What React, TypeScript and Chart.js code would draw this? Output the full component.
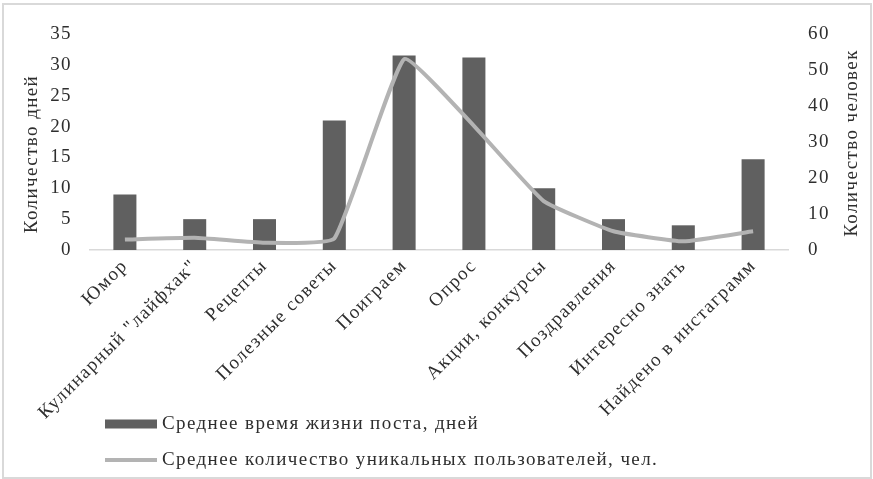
import { useEffect, useRef } from 'react';
import { Chart, registerables } from 'chart.js';

Chart.register(...registerables);

// Post categories along the x axis
const categories = [
  'Юмор',
  'Кулинарный "лайфхак"',
  'Рецепты',
  'Полезные советы',
  'Поиграем',
  'Опрос',
  'Акции, конкурсы',
  'Поздравления',
  'Интересно знать',
  'Найдено в инстаграмм',
];

// Average post lifetime, days (left axis)
const lifetimeDays = [9, 5, 5, 21, 31.5, 31.2, 10, 5, 4, 14.7];

// Average number of unique users (right axis)
const uniqueUsers = [2.9, 3.4, 2.0, 3.2, 53, 34.5, 13.6, 5.2, 2.4, 5.2];

const daysAxisMax = 35;
const daysAxisStep = 5;
const usersAxisMax = 60;
const usersAxisStep = 10;

const daysAxisTitle = 'Количество дней';
const usersAxisTitle = 'Количество человек';
const barSeriesLabel = 'Среднее время жизни поста, дней';
const lineSeriesLabel = 'Среднее количество уникальных пользователей, чел.';

const FONT_FAMILY = '"Liberation Serif", "Times New Roman", serif';
const FONT_SIZE = 19;
const LETTER_SPACING = '1.4px';
const TEXT_COLOR = '#2e2e2e';
const BAR_COLOR = '#606060';
const LINE_COLOR = '#b3b3b3';
const FRAME_COLOR = '#d9d9d9';

// Frame, rotated axis titles and a stacked legend, drawn on the chart canvas
const decorPlugin = {
  id: 'decor',
  beforeUpdate(chart: any) {
    chart.ctx.letterSpacing = LETTER_SPACING;
  },
  beforeDraw(chart: any) {
    const ctx = chart.ctx;
    ctx.letterSpacing = LETTER_SPACING;
    ctx.save();
    ctx.fillStyle = '#ffffff';
    ctx.fillRect(0, 0, chart.width, chart.height);
    ctx.strokeStyle = FRAME_COLOR;
    ctx.lineWidth = 2;
    ctx.strokeRect(3, 4, chart.width - 5, chart.height - 5);
    ctx.restore();
  },
  afterDraw(chart: any) {
    const ctx = chart.ctx;
    const area = chart.chartArea;
    ctx.save();
    ctx.letterSpacing = LETTER_SPACING;
    ctx.font = `${FONT_SIZE}px ${FONT_FAMILY}`;
    ctx.fillStyle = TEXT_COLOR;
    ctx.textBaseline = 'middle';
    ctx.textAlign = 'center';

    // Axis titles, both reading bottom to top
    const drawVertical = (text: string, x: number, y: number) => {
      ctx.save();
      ctx.translate(x, y);
      ctx.rotate(-Math.PI / 2);
      ctx.fillText(text, 0, 0);
      ctx.restore();
    };
    drawVertical(daysAxisTitle, area.left - 58, area.top + 120);
    drawVertical(usersAxisTitle, area.right + 64, area.top + 109);

    // Legend: bar swatch and line swatch stacked vertically
    const lx = area.left + 15;
    const swatchW = 52;
    const y1 = chart.height - 55;
    const y2 = chart.height - 19;
    ctx.fillStyle = BAR_COLOR;
    ctx.fillRect(lx, y1 - 4.5, swatchW, 9);
    ctx.strokeStyle = LINE_COLOR;
    ctx.lineWidth = 4;
    ctx.beginPath();
    ctx.moveTo(lx, y2);
    ctx.lineTo(lx + swatchW, y2);
    ctx.stroke();
    ctx.fillStyle = TEXT_COLOR;
    ctx.textAlign = 'left';
    ctx.fillText(barSeriesLabel, lx + swatchW + 5, y1);
    ctx.fillText(lineSeriesLabel, lx + swatchW + 5, y2);
    ctx.restore();
  },
};

export default function App() {
  const canvasRef = useRef<HTMLCanvasElement | null>(null);

  useEffect(() => {
    const canvas = canvasRef.current;
    if (!canvas) return;
    const tickFont = { family: FONT_FAMILY, size: FONT_SIZE };
    const chart = new Chart(canvas, {
      type: 'bar',
      data: {
        labels: categories,
        datasets: [
          {
            type: 'line',
            label: lineSeriesLabel,
            data: uniqueUsers,
            yAxisID: 'y1',
            borderColor: LINE_COLOR,
            backgroundColor: LINE_COLOR,
            borderWidth: 4,
            pointRadius: 0,
            tension: 0.12,
            order: 0,
          } as any,
          {
            type: 'bar',
            label: barSeriesLabel,
            data: lifetimeDays,
            yAxisID: 'y',
            backgroundColor: BAR_COLOR,
            categoryPercentage: 1,
            barPercentage: 0.33,
            order: 1,
          },
        ],
      },
      options: {
        animation: false,
        responsive: true,
        maintainAspectRatio: false,
        layout: { padding: { top: 34, left: 0, right: 0, bottom: 0 } },
        plugins: {
          legend: { display: false },
          tooltip: { enabled: false },
        },
        scales: {
          x: {
            grid: { display: false, drawTicks: false },
            border: { display: true, color: FRAME_COLOR, width: 1.5 },
            ticks: {
              autoSkip: false,
              minRotation: 45,
              maxRotation: 45,
              color: TEXT_COLOR,
              font: tickFont,
              padding: 5,
            },
            afterFit: (s: any) => {
              s.height = 229;
            },
          },
          y: {
            position: 'left',
            min: 0,
            max: daysAxisMax,
            grid: { display: false, drawTicks: false },
            border: { display: false },
            ticks: {
              stepSize: daysAxisStep,
              color: TEXT_COLOR,
              font: tickFont,
              padding: 18,
            },
            afterFit: (s: any) => {
              s.width = 90;
            },
          },
          y1: {
            position: 'right',
            min: 0,
            max: usersAxisMax,
            grid: { display: false, drawTicks: false },
            border: { display: false },
            ticks: {
              stepSize: usersAxisStep,
              color: TEXT_COLOR,
              font: tickFont,
              padding: 20,
            },
            afterFit: (s: any) => {
              s.width = 85;
            },
          },
        },
      },
      plugins: [decorPlugin],
    });
    return () => chart.destroy();
  }, []);

  return (
    <div style={{ position: 'fixed', left: 0, top: 0, width: 873, height: 479 }}>
      <canvas ref={canvasRef} />
    </div>
  );
}
